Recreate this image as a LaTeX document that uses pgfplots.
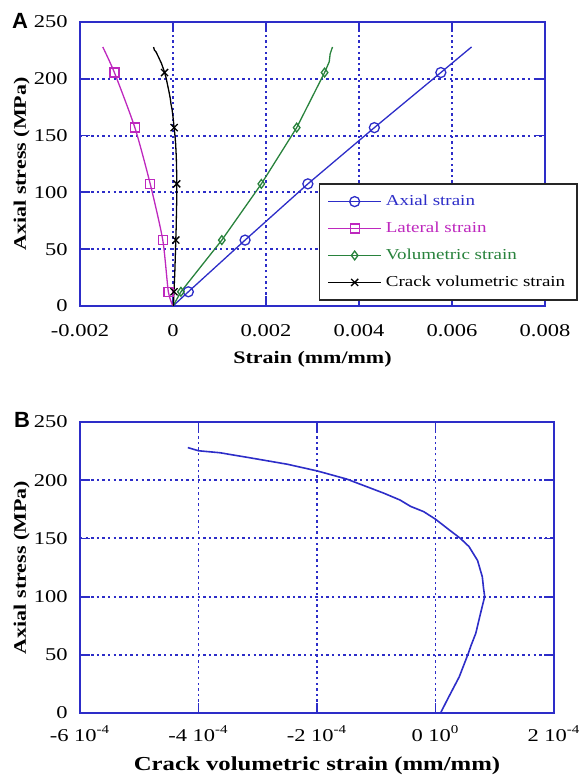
\documentclass[border=0pt]{standalone}
\usepackage{pgfplots}
\usepackage{pgfplotstable}
\pgfplotsset{compat=1.18}
\usepackage{fontspec}
\setmainfont[FakeStretch=1.25]{Liberation Serif}
\newfontfamily\panelfont{Liberation Sans}
\definecolor{axblue}{RGB}{45,45,200}
\definecolor{magA}{RGB}{190,40,190}
\definecolor{grnA}{RGB}{40,130,60}

\pgfplotstableread{
x y
0 0
0.00033 12.5
0.00155 58
0.0029 107.5
0.00433 157
0.00576 205.5
0.00642 228
}\axialtab

\pgfplotstableread{
x y
0 0
-0.0001 12.5
-0.00022 58
-0.00049 107.5
-0.00082 157
-0.00126 205.5
-0.00151 228
}\lateraltab

\pgfplotstableread{
x y
0 0
0.00017 12.5
0.00105 58
0.0019 107.5
0.00266 157
0.00326 205.5
0.00336 215
0.00338 222
0.00343 228
}\voltab

\pgfplotstableread{
x y
0.0000085 0
0.000021 12.5
0.00004 31
0.000055 50.7
0.00006 58
0.000068 68.5
0.000076 85.6
0.000083 100
0.000081 107.5
0.000079 117
0.000071 131
0.0000565 143
0.000042 150
0.000024 157
0 166.5
-0.00002 173
-0.000042 177.5
-0.00006 183
-0.000088 189
-0.00015 201
-0.000182 205.5
-0.0002 208
-0.00025 213.7
-0.000308 218.8
-0.000364 223.6
-0.0004 225.3
-0.000418 228
}\cracktab

\pgfplotsset{
  myaxis/.style={
    scale only axis,
    axis line style={axblue, line width=0.9pt},
    every tick/.style={axblue, line width=0.9pt},
    major tick length=5pt,
    tick align=inside,
    grid=major,
    major grid style={axblue, dash pattern=on 1.2pt off 1.6pt, line width=0.95pt},
    tick label style={font=\fontsize{9}{10}\selectfont, black},
    /pgf/number format/assume math mode=true,
    scaled ticks=false,
    yticklabel style={anchor=east, inner sep=0pt, xshift=-6pt},
    ymin=0, ymax=250, ytick={0,50,100,150,200,250},
    yticklabels={0,50,100,150,200,250},
    ylabel style={at={([xshift=-27pt]axis description cs:0,0.5)}, anchor=base, font=\bfseries\fontsize{8.8}{10}\selectfont},
    ylabel={Axial stress (MPa)},
  }
}

\begin{document}
\begin{tikzpicture}
\path[use as bounding box] (0,0) rectangle (290pt,390.5pt);

\begin{axis}[myaxis,
  at={(40pt,237.5pt)}, anchor=south west,
  width=232.5pt, height=142pt,
  xmin=-0.002, xmax=0.008,
  xtick={-0.002,0,0.002,0.004,0.006,0.008},
  xticklabels={-0.002,0,0.002,0.004,0.006,0.008},
  xticklabel style={anchor=base, inner sep=0pt, yshift=-15.5pt},
  xlabel={Strain (mm/mm)},
  xlabel style={at={([yshift=-29pt]axis description cs:0.5,0)}, anchor=base, font=\bfseries\fontsize{8.8}{10}\selectfont},
  legend style={at={(1.071,0.433)}, anchor=north east, draw=black!85, line width=0.8pt, fill=white,
    font=\fontsize{7.6}{8.5}\selectfont, inner xsep=4pt, inner ysep=3.5pt, row sep=2.7pt,
    cells={anchor=west}},
  legend image code/.code={\draw[mark indices={2}] plot coordinates {(0pt,0pt) (13.25pt,0pt) (26.5pt,0pt)};},
]
\addplot[axblue, line width=0.65pt, mark=o, mark size=2.5pt, mark indices={2,3,4,5,6}] table[x=x,y=y] {\axialtab};
\addlegendentry{\textcolor{axblue}{Axial strain}}
\addplot[magA, line width=0.65pt, smooth, tension=0.4, mark=square, mark size=2.25pt, mark indices={2,3,4,5,6}] table[x=x,y=y] {\lateraltab};
\addlegendentry{\textcolor{magA}{Lateral strain}}
\addplot[grnA, line width=0.65pt, mark=diamond, mark size=2.2pt, mark indices={2,3,4,5,6}] table[x=x,y=y] {\voltab};
\addlegendentry{\textcolor{grnA}{Volumetric strain}}
\addplot[black, line width=0.65pt, mark=x, mark size=2.5pt, mark indices={2,5,9,14,21}] table[x=x,y=y] {\cracktab};
\addlegendentry{Crack volumetric strain}
\end{axis}

\begin{axis}[myaxis,
  at={(40pt,34pt)}, anchor=south west,
  width=237pt, height=145.5pt,
  xmin=-0.0006, xmax=0.0002,
  xtick={-0.0006,-0.0004,-0.0002,0,0.0002},
  xticklabels={-6 10\textsuperscript{-4},-4 10\textsuperscript{-4},-2 10\textsuperscript{-4},0 10\textsuperscript{0},2 10\textsuperscript{-4}},
  xticklabel style={anchor=base, inner sep=0pt, yshift=-14.3pt},
  xlabel={Crack volumetric strain (mm/mm)},
  xlabel style={at={([yshift=-28.5pt]axis description cs:0.5,0)}, anchor=base, font=\bfseries\fontsize{9.9}{11}\selectfont},
]
\addplot[axblue, line width=0.8pt] table[x=x,y=y] {\cracktab};
\end{axis}

\node[font=\panelfont\bfseries\fontsize{11}{12}\selectfont] at (10pt,379.8pt) {A};
\node[font=\panelfont\bfseries\fontsize{11}{12}\selectfont] at (11pt,180.5pt) {B};
\end{tikzpicture}
\end{document}
